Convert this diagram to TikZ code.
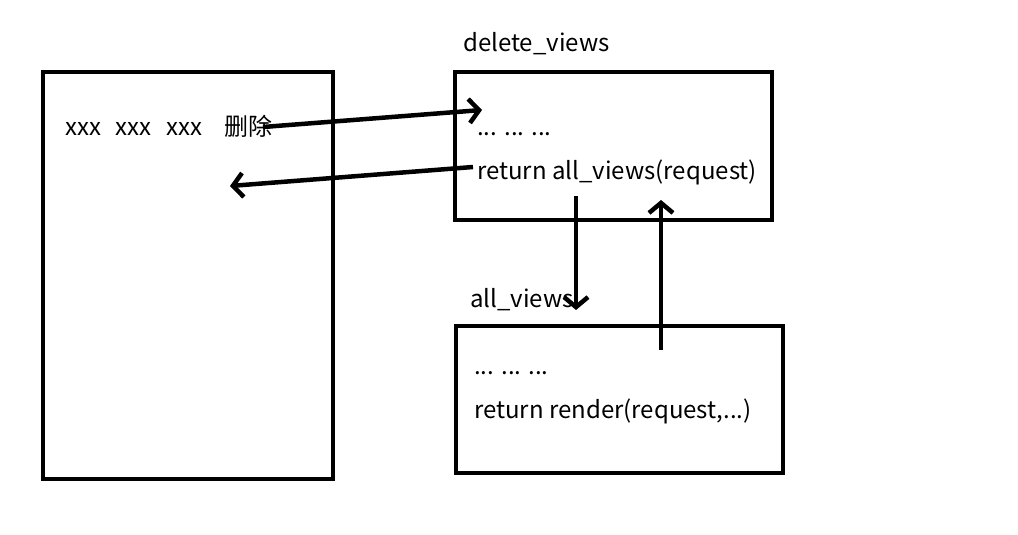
\documentclass[tikz,border=0pt]{standalone}
\usepackage{fontspec}
\setmainfont{Noto Sans CJK SC}
\usetikzlibrary{arrows.meta}
\begin{document}
\begin{tikzpicture}[x=1pt,y=-1pt,
  box/.style={draw=black, line width=4.5pt, rectangle, inner sep=0pt, outer sep=0pt, anchor=north west},
  txt/.style={anchor=west, inner sep=0pt, font=\fontsize{24}{28}\selectfont},
  conn/.style={line width=4.5pt, -{Straight Barb[length=10pt,width=24pt,line width=4.5pt]}}]
\useasboundingbox[fill=white] (0,0) rectangle (1018,535);
% boxes
\node[box, minimum width=290pt, minimum height=407pt] (page) at (43,72) {};
\node[box, minimum width=317pt, minimum height=148pt] (del) at (455,72) {};
\node[box, minimum width=327pt, minimum height=147pt] (all) at (456,326) {};
% labels
\node[txt] (dellabel) at (463,44) {delete\_views};
\node[txt] (alllabel) at (470,300) {all\_views};
\node[txt] (row) at (65,126) {xxx\hspace{0.62em}xxx\hspace{0.62em}xxx\hspace{0.92em}删除};
\node[txt] (deldots) at (477,134) {... ... ...};
\node[txt] (delret) at (477,172) {return all\_views(request)};
\node[txt] (alldots) at (474,373) {... ... ...};
\node[txt] (allret) at (474,411) {return render(request,...)};
% connector ends
\coordinate (a1s) at (263,127);
\coordinate (a1e) at (482,110);
\coordinate (a2s) at (473,167);
\coordinate (a2e) at (230,186);
\coordinate (a3s) at (576,196);
\coordinate (a3e) at (576,310);
\coordinate (a4s) at (661,350);
\coordinate (a4e) at (661,200);
\draw[conn] (a1s) -- (a1e);
\draw[conn] (a2s) -- (a2e);
\draw[conn] (a3s) -- (a3e);
\draw[conn] (a4s) -- (a4e);
\end{tikzpicture}
\end{document}
